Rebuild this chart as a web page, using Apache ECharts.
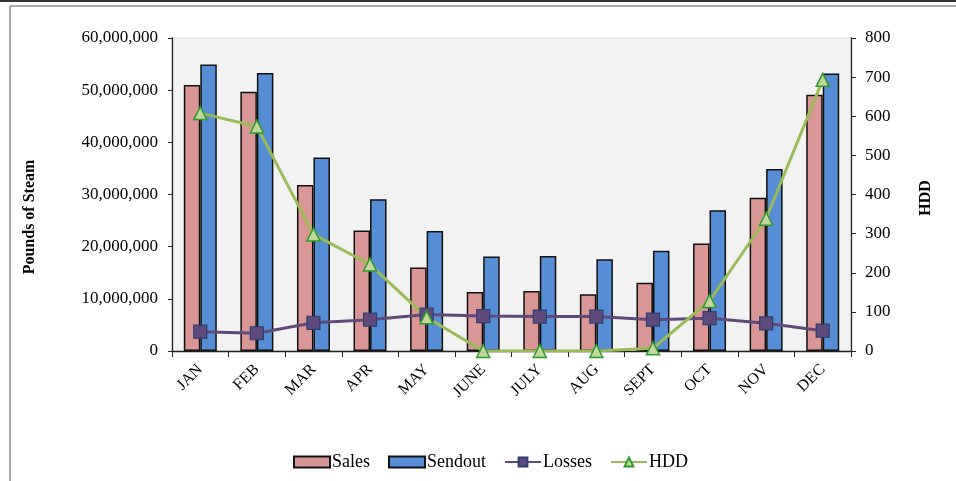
<!DOCTYPE html>
<html>
<head>
<meta charset="utf-8">
<script src="https://cdn.jsdelivr.net/npm/echarts@6/dist/echarts.min.js"></script>
<style>html,body{margin:0;padding:0;background:#fff}#c{width:956px;height:481px}</style>
</head>
<body>
<div id="c"></div>
<script>
const months = ['JAN','FEB','MAR','APR','MAY','JUNE','JULY','AUG','SEPT','OCT','NOV','DEC'];
const sales = [51000000,49700000,31800000,23100000,16000000,11300000,11500000,10900000,13100000,20600000,29400000,49100000];
const sendout = [54900000,53300000,37100000,29100000,23000000,18100000,18200000,17600000,19200000,27000000,34900000,53200000];
const losses = [3700000,3400000,5400000,6000000,7000000,6700000,6600000,6600000,6000000,6300000,5300000,3900000];
const hdd = [608,574,298,221,86,0,0,0,7,128,338,693];

const font = 'Liberation Serif';
const chart = echarts.init(document.getElementById('c'));
chart.setOption({
  animation: false,
  textStyle: {fontFamily: font},
  graphic: [
    {type:'rect', shape:{x:0,y:0,width:956,height:2}, style:{fill:'#333'}},
    {type:'line', shape:{x1:10,y1:6,x2:956,y2:6}, style:{stroke:'#aaa',lineWidth:2}},
    {type:'line', shape:{x1:10,y1:6,x2:10,y2:481}, style:{stroke:'#aaa',lineWidth:2}},
    {type:'text', x:30, y:217, rotation:Math.PI/2,
      style:{text:'Pounds of Steam', fontFamily:font, fontSize:16, fontWeight:'bold', fill:'#000', align:'center', verticalAlign:'middle'}},
    {type:'text', x:926, y:198, rotation:Math.PI/2,
      style:{text:'HDD', fontFamily:font, fontSize:16, fontWeight:'bold', fill:'#000', align:'center', verticalAlign:'middle'}}
  ],
  grid: {left:172, right:105, top:38, bottom:130, show:true, backgroundColor:'#f2f2f2', borderColor:'#e0e0e0', borderWidth:1},
  legend: {
    bottom: 5, left: 288, itemGap: 18, itemWidth: 36, itemHeight: 11,
    textStyle: {fontFamily: font, fontSize: 18, color:'#000', padding:[0,0,0,-3]},
    data: [{name:'Sales', icon:'rect'},{name:'Sendout', icon:'rect'},'Losses','HDD']
  },
  xAxis: {
    type: 'category', data: months,
    axisLine: {lineStyle:{color:'#222', width:1.3}},
    axisTick: {show:true, alignWithLabel:false, length:6, lineStyle:{color:'#222'}},
    axisLabel: {rotate:45, fontSize:16, color:'#000', margin:16, fontFamily: font}
  },
  yAxis: [
    {
      type:'value', min:0, max:60000000, interval:10000000,
      axisLine:{show:true, lineStyle:{color:'#222', width:1.3}},
      axisTick:{show:true, length:4, lineStyle:{color:'#222'}},
      splitLine:{show:false},
      axisLabel:{fontSize:17, color:'#000', margin:14, fontFamily:font,
        formatter: v => v.toLocaleString('en-US')}
    },
    {
      type:'value', min:0, max:800, interval:100, position:'right',
      axisLine:{show:true, lineStyle:{color:'#222', width:1.3}},
      axisTick:{show:true, length:5, lineStyle:{color:'#222'}},
      splitLine:{show:false},
      axisLabel:{fontSize:17, color:'#000', margin:14, fontFamily:font}
    }
  ],
  series: [
    {name:'Sales', type:'bar', data:sales, barWidth:16.5, barGap:'0%',
      itemStyle:{color:'#d99694', borderColor:'#111', borderWidth:1.5}},
    {name:'Sendout', type:'bar', data:sendout, barWidth:16.5, barGap:'0%',
      itemStyle:{color:'#558ed5', borderColor:'#111', borderWidth:1.5}},
    {name:'Losses', type:'line', data:losses, yAxisIndex:0, symbol:'rect', symbolSize:13,
      lineStyle:{color:'#604a7b', width:3},
      itemStyle:{color:'#604a7b', borderColor:'#2e3f73', borderWidth:1.2}},
    {name:'HDD', type:'line', data:hdd, yAxisIndex:1, symbol:'triangle', symbolSize:13,
      lineStyle:{color:'#9bbb59', width:3},
      itemStyle:{color:'#c3d69b', borderColor:'#2f9a2f', borderWidth:1.5}}
  ]
});
</script>
</body>
</html>
